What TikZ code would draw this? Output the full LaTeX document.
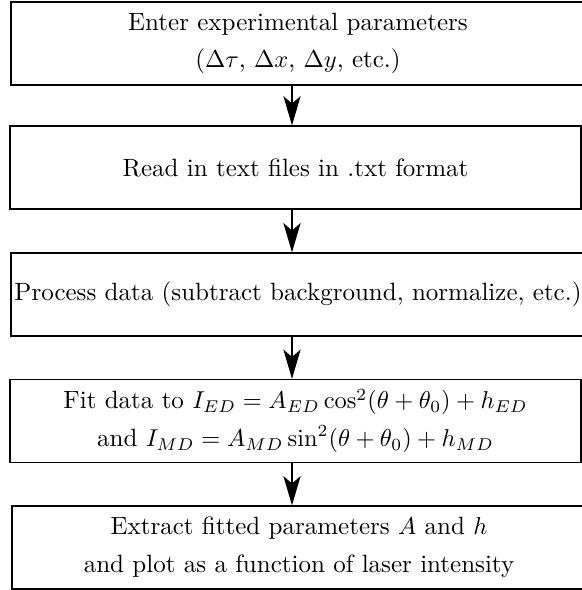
\documentclass[tikz,border=0pt]{standalone}
\usetikzlibrary{arrows.meta}
\begin{document}
\begin{tikzpicture}[x=0.41pt,y=-0.41pt,
  stepbox/.style={draw=black,line width=0.5pt,inner sep=0pt,align=center,
    minimum height=34pt,font=\fontsize{10.25}{12.5}\selectfont},
  wide/.style={minimum width=235.3pt},
  narrow/.style={minimum width=234.1pt},
  arr/.style={line width=1.1pt,-{Stealth[length=12pt,width=7pt,inset=3pt]}}]
\useasboundingbox (0,0) rectangle (582,590);
\coordinate (ax) at (292,0);
\node[stepbox,wide]   (b1) at (298,43.5) {Enter experimental parameters\\[3pt]($\Delta\tau$, $\Delta x$, $\Delta y$, etc.)};
\node[stepbox,narrow] (b2) at (295.5,167.5) {Read in text files in .txt format};
\node[stepbox,wide]   (b3) at (298,294.5) {Process data (subtract background, normalize, etc.)};
\node[stepbox,narrow] (b4) at (295.5,421) {Fit data to $I_{ED}=A_{ED}\cos^2(\theta+\theta_0)+h_{ED}$\\[3pt]and $I_{MD}=A_{MD}\sin^2(\theta+\theta_0)+h_{MD}$};
\node[stepbox,wide]   (b5) at (299,547.5) {Extract fitted parameters $A$ and $h$\\[3pt]and plot as a function of laser intensity};
\draw[arr] (b1.south -| ax) -- (b2.north -| ax);
\draw[arr] (b2.south -| ax) -- (b3.north -| ax);
\draw[arr] (b3.south -| ax) -- (b4.north -| ax);
\draw[arr] (b4.south -| ax) -- (b5.north -| ax);
\end{tikzpicture}
\end{document}
